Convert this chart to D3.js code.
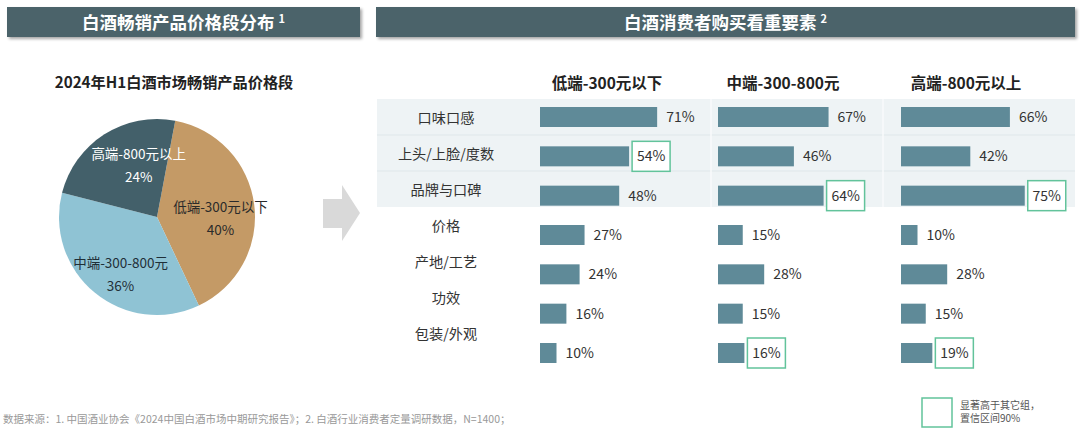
<!DOCTYPE html>
<html><head><meta charset="utf-8">
<script src="https://cdn.jsdelivr.net/npm/d3@7/dist/d3.min.js"></script>
<style>
html,body{margin:0;padding:0;background:#fff;}
svg{display:block;font-family:"Noto Sans CJK SC","Noto Sans",sans-serif;}
</style></head>
<body>
<svg id="c" width="1080" height="434"></svg>
<script>
const segments = ["低端-300元以下","中端-300-800元","高端-800元以上"];
const pieShares = [40,36,24];
const factors = ["口味口感","上头/上脸/度数","品牌与口碑","价格","产地/工艺","功效","包装/外观"];
const lowValues  = [71,54,48,27,24,16,10];
const midValues  = [67,46,64,15,28,15,16];
const highValues = [66,42,75,10,28,15,19];
const lowSig  = [false,true,false,false,false,false,false];
const midSig  = [false,false,true,false,false,false,true];
const highSig = [false,false,true,false,false,false,true];

const svg = d3.select("#c");
const defs = svg.append("defs");
const f = defs.append("filter").attr("id","sh").attr("x","-5%").attr("y","-30%").attr("width","110%").attr("height","170%");
f.append("feDropShadow").attr("dx",2).attr("dy",2).attr("stdDeviation",1.5).attr("flood-color","#000").attr("flood-opacity",0.35);

const HDR = "#4b636b";
function header(x,w,text,sup){
  svg.append("rect").attr("x",x).attr("y",7).attr("width",w).attr("height",30).attr("fill",HDR).attr("filter","url(#sh)");
  const t = svg.append("text").attr("x",x+w/2).attr("y",28.5).attr("text-anchor","middle")
    .attr("fill","#fff").attr("font-size",17.5).attr("font-weight","bold");
  t.append("tspan").text(text);
  t.append("tspan").attr("font-size",11).attr("dx",4).attr("dy",-6).text(sup);
}
header(7,353,"白酒畅销产品价格段分布","1");
header(376,699,"白酒消费者购买看重要素","2");

// pie
svg.append("text").attr("x",174).attr("y",88).attr("text-anchor","middle").attr("font-size",15.2)
  .attr("font-weight","bold").attr("fill","#222").text("2024年H1白酒市场畅销产品价格段");
const pieColors = d3.scaleOrdinal().domain(segments).range(["#c49a66","#8fc3d4","#43606a"]);
const pieTextColors = ["#2a2a2a","#1f2f38","#ffffff"];
const labelNudge = [[2,9],[3,9],[15,0]];
const cx=157, cy=217, R=98;
const pie = d3.pie().sort(null).value(d=>d.v).startAngle(0.187).endAngle(0.187+2*Math.PI);
const pdata = pie(segments.map((s,i)=>({s,v:pieShares[i],i})));
const arc = d3.arc().innerRadius(0).outerRadius(R);
const labArc = d3.arc().innerRadius(62).outerRadius(62);
const pg = svg.append("g").attr("transform",`translate(${cx},${cy})`);
pg.selectAll("path").data(pdata).join("path").attr("d",arc).attr("fill",d=>pieColors(d.data.s));
pdata.forEach(d=>{
  let [lx,ly]=labArc.centroid(d);
  lx += labelNudge[d.data.i][0]; ly += labelNudge[d.data.i][1];
  const t = pg.append("text").attr("x",lx).attr("y",ly).attr("text-anchor","middle").attr("font-size",13.5).attr("fill",pieTextColors[d.data.i]);
  t.append("tspan").attr("x",lx).attr("dy",-6).text(d.data.s);
  t.append("tspan").attr("x",lx).attr("dy",23).text(d.data.v+"%");
});

// arrow
svg.append("path").attr("d","M323,199 L342,199 L342,185 L360,213 L342,241 L342,228 L323,228 Z").attr("fill","#d9d9d9");

// right panel
const bandTop=99, bandBot=207;
svg.append("rect").attr("x",377).attr("y",bandTop).attr("width",698).attr("height",bandBot-bandTop).attr("fill","#eef3f5");
[135,171].forEach(y=>svg.append("line").attr("x1",377).attr("x2",1075).attr("y1",y).attr("y2",y).attr("stroke","#dfe7ea").attr("stroke-width",1));
[711,883].forEach(x=>svg.append("line").attr("x1",x).attr("x2",x).attr("y1",bandTop).attr("y2",bandBot).attr("stroke","#f8fafb").attr("stroke-width",1.5));

const yBar = d3.scalePoint().domain(factors).range([117,353]);
const yLab = d3.scalePoint().domain(factors).range([118,334]);
const xw = d3.scaleLinear().domain([0,100]).range([0,165]);
const BAR="#5f8a98", GREEN="#62c39b";

svg.append("g").selectAll("text").data(factors).join("text")
  .attr("x",446).attr("y",d=>yLab(d)+5).attr("text-anchor","middle").attr("font-size",14.2).attr("fill","#333").text(d=>d);

const cols = [
  {name:segments[0], x0:540, hx:607, vals:lowValues, sig:lowSig},
  {name:segments[1], x0:718, hx:783, vals:midValues, sig:midSig},
  {name:segments[2], x0:901, hx:966, vals:highValues, sig:highSig}
];
cols.forEach(c=>{
  svg.append("text").attr("x",c.hx).attr("y",89).attr("text-anchor","middle").attr("font-size",15.5)
    .attr("font-weight","bold").attr("fill","#222").text(c.name);
  const g = svg.append("g");
  c.vals.forEach((v,i)=>{
    const yc = yBar(factors[i]);
    const w = xw(v);
    g.append("rect").attr("x",c.x0).attr("y",yc-10).attr("width",w).attr("height",20).attr("fill",BAR);
    if(c.sig[i]){
      g.append("rect").attr("x",c.x0+w+3).attr("y",yc-15).attr("width",38).attr("height",30)
        .attr("fill","#fff").attr("stroke",GREEN).attr("stroke-width",1.5);
      g.append("text").attr("x",c.x0+w+22).attr("y",yc+5).attr("text-anchor","middle").attr("font-size",14).attr("fill","#333").text(v+"%");
    } else {
      g.append("text").attr("x",c.x0+w+9).attr("y",yc+5).attr("font-size",14).attr("fill","#333").text(v+"%");
    }
  });
});

// legend
svg.append("rect").attr("x",922).attr("y",398).attr("width",30).attr("height",29).attr("fill","none").attr("stroke",GREEN).attr("stroke-width",1.5);
svg.append("text").attr("x",960).attr("y",409).attr("font-size",10).attr("fill","#555").text("显著高于其它组，");
svg.append("text").attr("x",960).attr("y",422).attr("font-size",10).attr("fill","#555").text("置信区间90%");

// footer
svg.append("text").attr("x",3).attr("y",423).attr("font-size",10.5).attr("fill","#999")
  .text("数据来源：1. 中国酒业协会《2024中国白酒市场中期研究报告》；2. 白酒行业消费者定量调研数据，N=1400；");
</script>
</body></html>
